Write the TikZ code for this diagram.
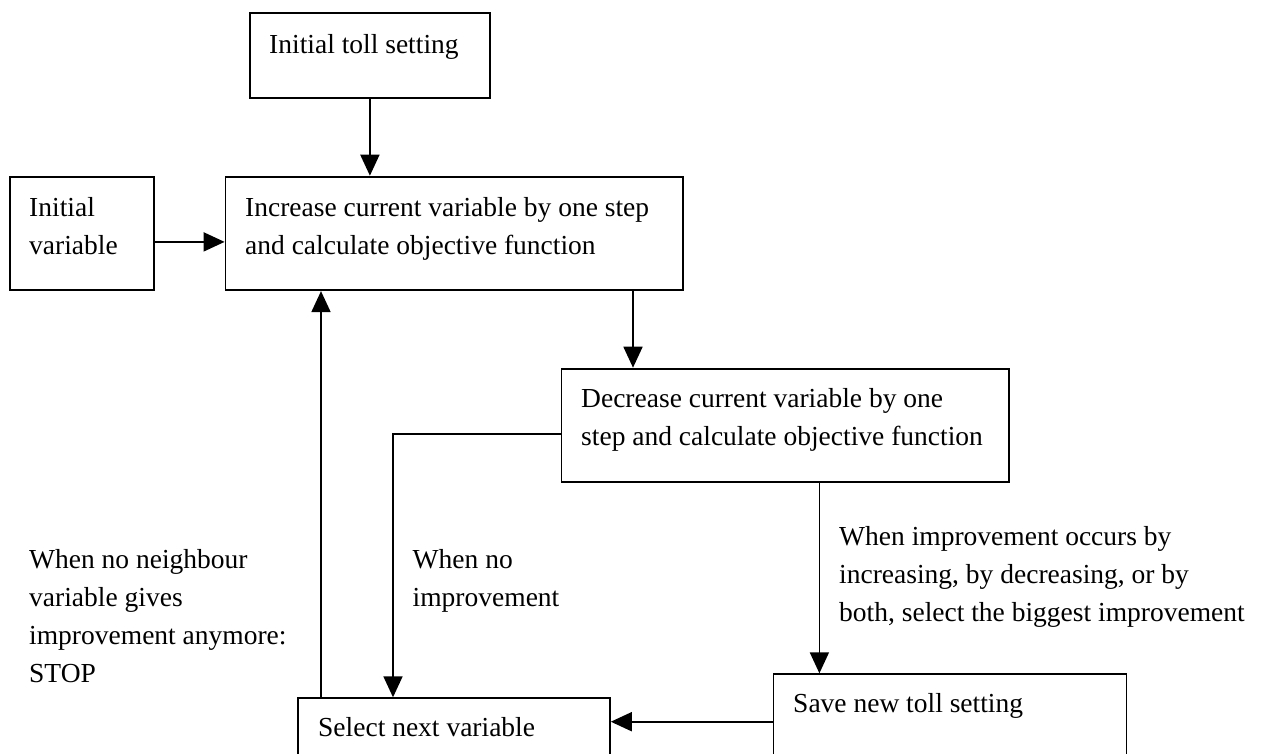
\documentclass[tikz,border=0pt]{standalone}
\usepackage{fontspec}
\setmainfont{Liberation Serif}
\usetikzlibrary{arrows.meta,calc}

\tikzset{
  stepbox/.style={draw, line width=1.8pt, inner sep=0pt, anchor=north west},
  txt/.style={anchor=base west, inner sep=0pt},
  arr/.style={line width=1.8pt, -{Triangle[length=21pt,width=19pt]}},
}
\newcommand{\lines}[1]{\parbox[t]{500pt}{\fontsize{27.5}{38}\selectfont\raggedright #1}}

\begin{document}
\begin{tikzpicture}[x=1pt,y=-1pt]
\useasboundingbox (0,0) rectangle (1274,753);
\clip (0,0) rectangle (1274,753);

% boxes
\node[stepbox, minimum width=240.6pt, minimum height=85pt]    (toll)   at (248.7,12.3)  {};
\node[stepbox, minimum width=144pt,   minimum height=113.6pt] (initv)  at (9,175.7)     {};
\node[stepbox, minimum width=457.1pt, minimum height=113.6pt] (incr)   at (224.6,175.7) {};
\node[stepbox, minimum width=447.5pt, minimum height=113.6pt] (decr)   at (560.5,367.7) {};
\node[stepbox, minimum width=312pt,   minimum height=90pt]    (select) at (297,697.3)   {};
\node[stepbox, minimum width=353pt,   minimum height=110pt]   (save)   at (772.5,673.3) {};

% box texts
\node[txt] (tollT)   at (269,53.3)  {\lines{Initial toll setting}};
\node[txt] (initvT)  at (29,216)    {\lines{Initial\\variable}};
\node[txt] (incrT)   at (245,216)   {\lines{Increase current variable by one step\\and calculate objective function}};
\node[txt] (decrT)   at (581,407.3) {\lines{Decrease current variable by one\\step and calculate objective function}};
\node[txt] (selectT) at (318,736.7) {\lines{Select next variable}};
\node[txt] (saveT)   at (793,712.7) {\lines{Save new toll setting}};

% connector labels
\node[txt] (stopT)   at (29,568)    {\lines{When no neighbour\\variable gives\\improvement anymore:\\STOP}};
\node[txt] (noimpT)  at (412.5,568) {\lines{When no\\improvement}};
\node[txt] (impT)    at (839,545)   {\lines{When improvement occurs by\\increasing, by decreasing, or by\\both, select the biggest improvement}};

% connectors
\draw[arr] (toll.south) -- (toll.south |- incr.north);
\draw[arr] ([yshift=-8.5pt]initv.east) -- ([yshift=-8.5pt]incr.west);
\draw[arr] ([xshift=72.5pt]decr.north west |- incr.south) -- ([xshift=72.5pt]decr.north west);
\draw[arr] ([yshift=-8.8pt]decr.west) -| ([xshift=96pt]select.north west);
\draw[arr] ([xshift=258.9pt]decr.south west) -- ([xshift=46.9pt]save.north west);
\draw[arr] ([yshift=-48.4pt]save.north west) -- ([yshift=-24.4pt]select.north east);
\draw[arr] ([xshift=24pt]select.north west) -- ([xshift=24pt]select.north west |- incr.south);
\end{tikzpicture}
\end{document}
